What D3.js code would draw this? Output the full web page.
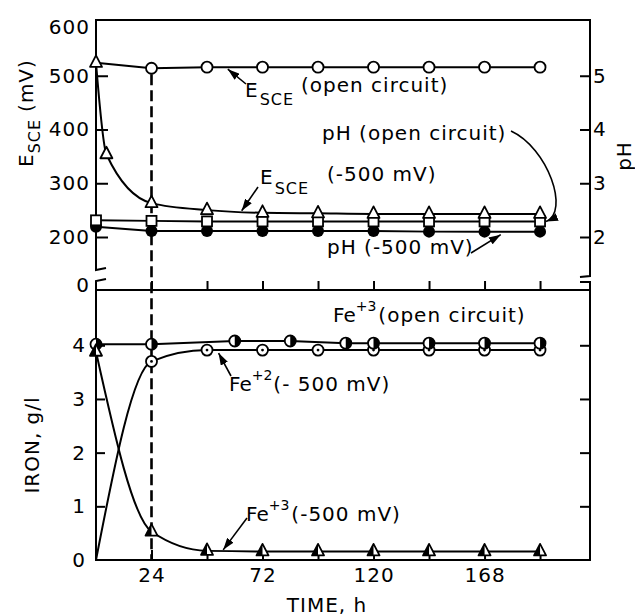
<!DOCTYPE html>
<html>
<head>
<meta charset="utf-8">
<script src="https://cdn.jsdelivr.net/npm/d3@7"></script>
<style>
  body { margin: 0; background: #fff; }
  svg text { font-family: "DejaVu Sans", sans-serif; fill: #000; letter-spacing: 1px; }
</style>
</head>
<body>
<div id="chart"></div>
<script>
// ---- time axis ----
var timeTicks = [24, 48, 72, 96, 120, 144, 168, 192];
var timeLabels = ["24", "", "72", "", "120", "", "168", ""];

// ---- upper panel: potential (left) and pH (right) ----
var eTicks = [100, 200, 300, 400, 500, 600];
var eTickLabels = ["0", "200", "300", "400", "500", "600"];
var phTicks = [2, 3, 4, 5];
var hours = [0, 24, 48, 72, 96, 120, 144, 168, 192];
var eOpen = [524, 514, 516, 516, 516, 516, 516, 516, 516];
var eCathHours = [0, 4.5, 24, 48, 72, 96, 120, 144, 168, 192];
var eCath = [524, 354, 263, 250, 245, 244, 243, 243, 243, 243];
var phOpen = [2.31, 2.30, 2.29, 2.29, 2.29, 2.29, 2.29, 2.29, 2.29];
var phCath = [2.19, 2.11, 2.11, 2.11, 2.11, 2.11, 2.10, 2.10, 2.10];

// ---- lower panel: iron ----
var ironTicks = [0, 1, 2, 3, 4];
var fe3OpenHours = [0, 24, 60, 84, 108, 120, 144, 168, 192];
var fe3Open = [4.02, 4.02, 4.08, 4.08, 4.04, 4.04, 4.04, 4.04, 4.04];
var fe2Cath = [0, 3.70, 3.91, 3.91, 3.91, 3.91, 3.91, 3.91, 3.91];
var fe3Cath = [3.88, 0.53, 0.17, 0.16, 0.16, 0.16, 0.16, 0.16, 0.16];

var attrs = {
  width: 635, height: 616,
  left: 96, right: 590,
  top: 20, mid: 290, bottom: 560,
  stroke: 2
};

var svg = d3.select('#chart').append('svg')
  .attr('width', attrs.width)
  .attr('height', attrs.height);

// ############ scales ##############
var x = d3.scaleLinear().domain([0, 213.6]).range([attrs.left, attrs.right]);
var yE = d3.scaleLinear().domain([100, 600]).range([290.75, 22]);
var yPH = d3.scaleLinear().domain([1, 6]).range([290.75, 22]);
var yFe = d3.scaleLinear().domain([0, 5.03]).range([attrs.bottom, attrs.mid]);
var intFmt = d3.format('d');

// arrow head
svg.append('defs').append('marker')
  .attr('id', 'arrow')
  .attr('markerUnits', 'userSpaceOnUse')
  .attr('markerWidth', 13).attr('markerHeight', 8)
  .attr('refX', 12).attr('refY', 4)
  .attr('orient', 'auto')
  .append('path').attr('d', 'M0,0 L12,4 L0,8 Z').attr('fill', '#000');

// ############ frame with axis breaks ##############
var frame = svg.append('g').attr('fill', 'none').attr('stroke', '#000').attr('stroke-width', attrs.stroke);
[
  'M' + attrs.left + ',' + attrs.top + 'H' + attrs.right,
  'M' + attrs.left + ',' + (attrs.top - 1) + 'V270 L106,268',
  'M106,279 L' + attrs.left + ',281 V' + attrs.bottom,
  'M' + attrs.right + ',' + (attrs.top - 1) + 'V276 L580,277',
  'M580,282 L' + attrs.right + ',282 V' + attrs.bottom,
  'M' + attrs.left + ',' + attrs.mid + 'H' + attrs.right,
  'M' + (attrs.left - 1) + ',' + attrs.bottom + 'H' + (attrs.right + 1)
].forEach(function (d) { frame.append('path').attr('d', d); });

// ############ axes ##############
function styleAxis(g) {
  g.select('.domain').remove();
  g.attr('font-family', '"DejaVu Sans", sans-serif').attr('font-size', 20);
  g.selectAll('.tick line').attr('stroke-width', attrs.stroke);
  return g;
}

var axE = svg.append('g').attr('transform', 'translate(' + attrs.left + ',0)')
  .call(d3.axisLeft(yE).tickValues(eTicks)
    .tickFormat(function (d) { return eTickLabels[eTicks.indexOf(d)]; })
    .tickSizeInner(-12).tickSizeOuter(0).tickPadding(6));
styleAxis(axE);
axE.selectAll('.tick').filter(function (d) { return d === 600 || d === 100; }).select('line').remove();
axE.selectAll('.tick text').filter(function (d) { return d === 100; }).attr('y', -6);
axE.selectAll('.tick text').filter(function (d) { return d === 600; }).attr('y', 5);

var axPH = svg.append('g').attr('transform', 'translate(' + attrs.right + ',0)')
  .call(d3.axisRight(yPH).tickValues(phTicks).tickFormat(intFmt)
    .tickSizeInner(-10).tickSizeOuter(0).tickPadding(3));
styleAxis(axPH);

var axMid = svg.append('g').attr('transform', 'translate(0,' + attrs.mid + ')')
  .call(d3.axisBottom(x).tickValues(timeTicks).tickFormat('').tickSizeInner(-9).tickSizeOuter(0));
styleAxis(axMid);

var axT = svg.append('g').attr('transform', 'translate(0,' + attrs.bottom + ')')
  .call(d3.axisBottom(x).tickValues(timeTicks)
    .tickFormat(function (d) { return timeLabels[timeTicks.indexOf(d)]; })
    .tickSizeInner(-10).tickSizeOuter(0).tickPadding(8));
styleAxis(axT);

var axFe = svg.append('g').attr('transform', 'translate(' + attrs.left + ',0)')
  .call(d3.axisLeft(yFe).tickValues(ironTicks).tickFormat(intFmt)
    .tickSizeInner(-9).tickSizeOuter(0).tickPadding(10));
styleAxis(axFe);
axFe.selectAll('.tick').filter(function (d) { return d === 0; }).select('line').remove();

var axFeR = svg.append('g').attr('transform', 'translate(' + attrs.right + ',0)')
  .call(d3.axisRight(yFe).tickValues(ironTicks.slice(1)).tickFormat('').tickSizeInner(-10).tickSizeOuter(0));
styleAxis(axFeR);

// ############ axis titles ##############
function rich(parent, parts, transform) {
  var t = parent.append('text').attr('font-size', 20);
  if (transform) t.attr('transform', transform);
  parts.forEach(function (p) {
    var s = t.append('tspan').text(p.t);
    if (p.x !== undefined) s.attr('x', p.x);
    if (p.y !== undefined) s.attr('y', p.y);
    if (p.dx !== undefined) s.attr('dx', p.dx);
    if (p.dy !== undefined) s.attr('dy', p.dy);
    if (p.size) s.attr('font-size', p.size);
    if (p.ls !== undefined) s.style('letter-spacing', p.ls + 'px');
  });
  return t;
}

rich(svg, [{ t: 'E' }, { t: 'SCE', size: 16, dy: 7 }, { t: '(mV)', dx: 7, dy: -7 }],
  'translate(33,167) rotate(-90)');
svg.append('text').attr('font-size', 20).attr('text-anchor', 'middle')
  .attr('transform', 'translate(631,156) rotate(-90)').text('pH');
svg.append('text').attr('font-size', 20).attr('text-anchor', 'middle')
  .attr('transform', 'translate(39,445) rotate(-90)').text('IRON, g/l');
svg.append('text').attr('font-size', 20).attr('text-anchor', 'middle')
  .attr('x', 327).attr('y', 612).text('TIME, h');

// ############ series ##############
var plot = svg.append('g');

function line(xs, ys, yScale, curve) {
  var pts = xs.map(function (t, i) { return [t, ys[i]]; });
  plot.append('path').datum(pts)
    .attr('fill', 'none').attr('stroke', '#000').attr('stroke-width', attrs.stroke)
    .attr('d', d3.line().x(function (d) { return x(d[0]); })
      .y(function (d) { return yScale(d[1]); }).curve(curve || d3.curveLinear));
}

// dashed line at 24 h
plot.append('line')
  .attr('x1', x(24)).attr('x2', x(24))
  .attr('y1', yE(eOpen[1]) + 6).attr('y2', attrs.bottom)
  .attr('stroke', '#000').attr('stroke-width', 2.6).attr('stroke-dasharray', '11,5');

line(hours, eOpen, yE);
line(eCathHours, eCath, yE, d3.curveMonotoneX);
line(hours, phOpen, yPH);
line(hours, phCath, yPH);
line(fe3OpenHours, fe3Open, yFe);
line(hours, fe2Cath, yFe, d3.curveMonotoneX);
line(hours, fe3Cath, yFe, d3.curveMonotoneX);

function markers(xs, ys, yScale, draw) {
  var g = plot.append('g');
  xs.forEach(function (t, i) {
    var m = g.append('g').attr('transform', 'translate(' + x(t) + ',' + yScale(ys[i]) + ')');
    draw(m);
  });
}
var ms = 1.8;
function openCircle(m) {
  m.append('circle').attr('r', 5.5).attr('fill', '#fff').attr('stroke', '#000').attr('stroke-width', ms);
}
function filledCircle(m) {
  m.append('circle').attr('r', 6).attr('fill', '#000');
}
function square(m) {
  m.append('rect').attr('x', -5).attr('y', -5).attr('width', 10).attr('height', 10)
    .attr('fill', '#fff').attr('stroke', '#000').attr('stroke-width', ms);
}
function triangle(m) {
  m.append('path').attr('d', 'M0,-7.5 L6,4 L-6,4 Z')
    .attr('fill', '#fff').attr('stroke', '#000').attr('stroke-width', ms).attr('stroke-linejoin', 'round');
}
function halfTriangle(m) {
  m.append('path').attr('d', 'M0,-7.5 L6,4 L-6,4 Z')
    .attr('fill', '#fff').attr('stroke', '#000').attr('stroke-width', ms).attr('stroke-linejoin', 'round');
  m.append('path').attr('d', 'M0,-7.5 L-6,4 L0,4 Z').attr('fill', '#000');
}
function dotCircle(m) {
  m.append('circle').attr('r', 5.5).attr('fill', '#fff').attr('stroke', '#000').attr('stroke-width', ms);
  m.append('circle').attr('r', 1.4).attr('fill', '#000');
}
function halfCircle(m) {
  m.append('circle').attr('r', 5.5).attr('fill', '#fff').attr('stroke', '#000').attr('stroke-width', ms);
  m.append('path').attr('d', 'M0,-5.5 A5.5,5.5 0 0 1 0,5.5 Z').attr('fill', '#000');
}

// upper panel markers
markers(hours, phCath, yPH, filledCircle);
markers(hours, phOpen, yPH, square);
markers(hours.slice(1), eOpen.slice(1), yE, openCircle);
markers(eCathHours, eCath, yE, triangle);

// lower panel markers
markers(hours.slice(1), fe2Cath.slice(1), yFe, dotCircle);
markers(fe3OpenHours, fe3Open, yFe, halfCircle);
markers(hours, fe3Cath, yFe, halfTriangle);

// ############ annotations ##############
var notes = svg.append('g');
function arrow(d) {
  notes.append('path').attr('d', d).attr('fill', 'none').attr('stroke', '#000')
    .attr('stroke-width', 1.6).attr('marker-end', 'url(#arrow)');
}

rich(notes, [{ t: 'E', x: 245, y: 97 }, { t: 'SCE', dx: 1, dy: 8, size: 16 }, { t: '(open circuit)', x: 301, y: 92 }]);
arrow('M246,84 L' + x(57) + ',' + (yE(eOpen[2]) + 2));

rich(notes, [{ t: 'E', x: 260, y: 184 }, { t: 'SCE', dx: 1, dy: 10, size: 16 }, { t: '(-500 mV)', x: 327, y: 181 }]);
arrow('M258,187 L' + x(63) + ',' + (yE(eCath[4]) - 2));

rich(notes, [{ t: 'pH (open circuit)', x: 322, y: 140 }]);
arrow('M511,131 C548,148 570,212 ' + (x(192) + 6) + ',' + yPH(phOpen[8]));

rich(notes, [{ t: 'pH (-500 mV)', x: 327, y: 254 }]);
arrow('M471,253 L' + x(175) + ',' + (yPH(phCath[8]) + 3));

rich(notes, [{ t: 'Fe', x: 333, y: 322, ls: 0 }, { t: '+3', dy: -11, size: 14, ls: 0 }, { t: '(open circuit)', dx: 2, dy: 11 }]);

rich(notes, [{ t: 'Fe', x: 229, y: 391, ls: 0 }, { t: '+2', dy: -11, size: 14, ls: 0 }, { t: '(- 500 mV)', dx: 1, dy: 11 }]);
arrow('M231,376 L' + x(53) + ',' + (yFe(fe2Cath[2]) + 3));

rich(notes, [{ t: 'Fe', x: 246, y: 521, ls: 0 }, { t: '+3', dy: -11, size: 14, ls: 0 }, { t: '(-500 mV)', dx: 2, dy: 11 }]);
arrow('M247,518 L' + x(55) + ',' + (yFe(fe3Cath[2]) - 1));
</script>
</body>
</html>
